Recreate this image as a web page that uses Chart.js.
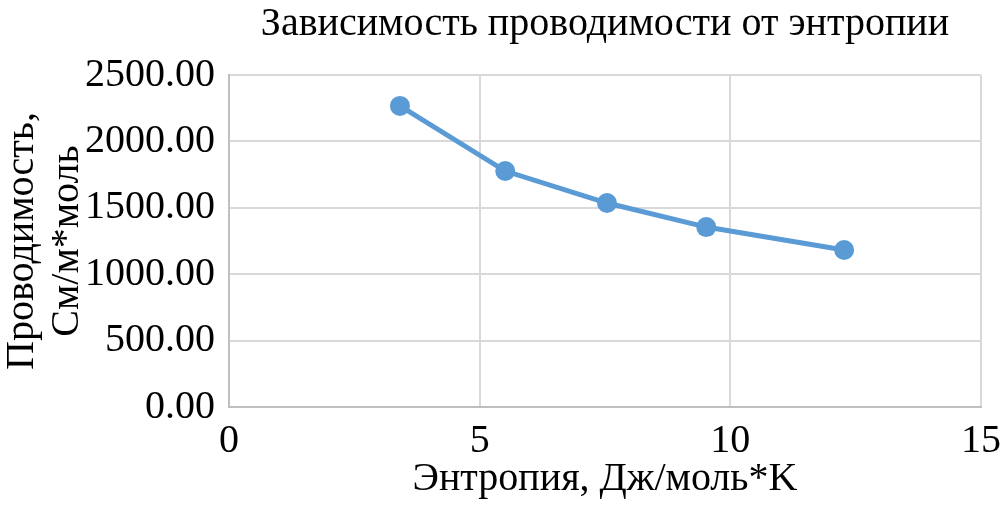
<!DOCTYPE html>
<html>
<head>
<meta charset="utf-8">
<script src="https://cdn.jsdelivr.net/npm/chart.js@4/dist/chart.umd.min.js"></script>
<style>
html,body{margin:0;padding:0;background:#fff;}
#wrap{width:1004px;height:516px;position:relative;}
</style>
</head>
<body>
<div id="wrap"><canvas id="c" width="1004" height="516"></canvas></div>
<script>
const entropy = [3.41, 5.51, 7.54, 9.52, 12.27];
const conductivity = [2267, 1777, 1536, 1355, 1182];
const chartTitle = 'Зависимость проводимости от энтропии';
const xTitle = 'Энтропия, Дж/моль*K';
const yTitle = ['Проводимость,', 'См/м*моль'];

const FONT = "'Liberation Serif', 'Times New Roman', serif";
const points = entropy.map((x, i) => ({x: x, y: conductivity[i]}));

new Chart(document.getElementById('c'), {
  type: 'scatter',
  data: {
    datasets: [{
      data: points,
      showLine: true,
      borderColor: '#5b9bd5',
      backgroundColor: '#5b9bd5',
      borderWidth: 5,
      pointRadius: 10,
      pointHoverRadius: 10,
      pointBorderWidth: 0
    }]
  },
  options: {
    responsive: false,
    animation: false,
    layout: {padding: {left: 0, right: 0, top: 0, bottom: 0}},
    plugins: {
      legend: {display: false},
      tooltip: {enabled: false},
      title: {
        display: true,
        text: chartTitle,
        fullSize: false,
        color: '#000',
        font: {family: FONT, size: 40, weight: 'normal'},
        padding: {top: 0, bottom: 27}
      }
    },
    scales: {
      x: {
        type: 'linear',
        min: 0, max: 15,
        ticks: {stepSize: 5, color: '#000', font: {family: FONT, size: 40}, padding: 10, maxRotation: 0},
        grid: {color: '#d9d9d9', lineWidth: 2, drawTicks: false},
        border: {color: '#bfbfbf', width: 2},
        title: {display: true, text: xTitle, color: '#000', font: {family: FONT, size: 40}, padding: {top: 0, bottom: 13}},
        afterFit: s => { s.height = 109; s.paddingRight = 23; }
      },
      y: {
        type: 'linear',
        min: 0, max: 2500,
        ticks: {stepSize: 500, color: '#000', font: {family: FONT, size: 40}, padding: 14,
          callback: v => Number(v).toFixed(2)},
        grid: {color: '#d9d9d9', lineWidth: 2, drawTicks: false},
        border: {color: '#bfbfbf', width: 2},
        title: {display: true, text: yTitle, color: '#000', font: {family: FONT, size: 40, lineHeight: 1.12}, padding: 0},
        afterFit: s => { s.width = 229; }
      }
    }
  }
});
</script>
</body>
</html>
